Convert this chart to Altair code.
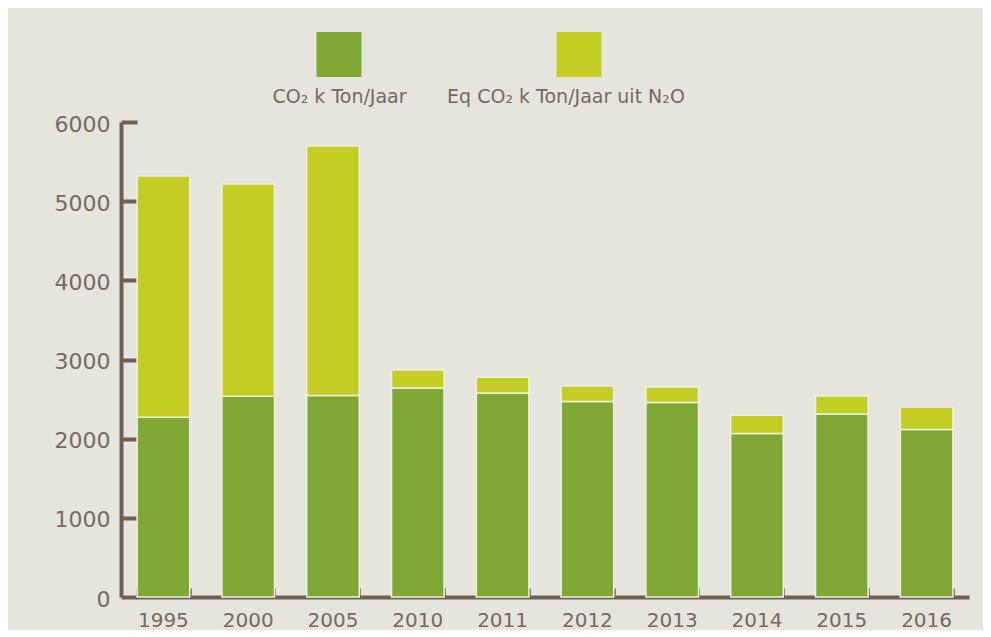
import altair as alt
import pandas as pd

# ---- data ----
years = ["1995", "2000", "2005", "2010", "2011", "2012", "2013", "2014", "2015", "2016"]
co2 = [2270, 2535, 2545, 2640, 2577, 2470, 2457, 2065, 2311, 2116]
n2o = [3048, 2682, 3152, 227, 198, 195, 196, 230, 228, 284]
series_names = ["CO₂ k Ton/Jaar", "Eq CO₂ k Ton/Jaar uit N₂O"]
series_colors = ["#7fa733", "#c3cd23"]
y_ticks = [0, 1000, 2000, 3000, 4000, 5000, 6000]

rows = []
for i, yr in enumerate(years):
    rows.append({"year": yr, "series": series_names[0], "value": co2[i], "order": 0})
    rows.append({"year": yr, "series": series_names[1], "value": n2o[i], "order": 1})
df = pd.DataFrame(rows)

W, H = 848, 475
AXIS = "#705f50"
LABEL = "#76695d"
FONT = "DejaVu Sans"
WEIGHT = 400
BG = "#e6e5dd"

xscale = alt.Scale(domain=years, paddingInner=0.38, paddingOuter=0.19)
yscale = alt.Scale(domain=[0, 6000], nice=False)
cscale = alt.Scale(domain=series_names, range=series_colors)

bars = alt.Chart(df).mark_bar(stroke="#eef0e4", strokeWidth=1.5).encode(
    x=alt.X("year:N", scale=xscale, sort=years,
            axis=alt.Axis(title=None, labelAngle=0, ticks=False, tickSize=0, domain=True,
                          domainColor=AXIS, domainWidth=4, labelColor=LABEL, labelFont=FONT,
                          labelFontWeight=WEIGHT, labelFontSize=20, labelPadding=13, grid=False)),
    y=alt.Y("value:Q", stack="zero", scale=yscale,
            axis=alt.Axis(title=None, values=y_ticks, format="d", ticks=False, tickSize=0,
                          domain=True, domainColor=AXIS, domainWidth=4, labelColor=LABEL,
                          labelFont=FONT, labelFontWeight=WEIGHT, labelFontSize=22,
                          labelPadding=11, labelOffset=2, grid=False)),
    color=alt.Color("series:N", scale=cscale, legend=None),
    order=alt.Order("order:Q"),
)

tick_layer = alt.Chart(df).mark_bar(opacity=0).encode(
    x=alt.X("year:N", scale=xscale, sort=years,
            axis=alt.Axis(orient="top", offset=-H, labels=False, domain=False, ticks=True,
                          tickBand="extent", tickSize=9, tickWidth=2.5, tickColor=AXIS,
                          title=None, grid=False)),
    y=alt.Y("value:Q", stack="zero", scale=yscale,
            axis=alt.Axis(orient="right", offset=-W, values=y_ticks[1:], labels=False,
                          domain=False, ticks=True, tickSize=16, tickWidth=4, tickColor=AXIS,
                          title=None, grid=False)),
)

legend_layers = []
legend_sq_x = [218, 458]
legend_txt_x = [218.5, 445]
for i, name in enumerate(series_names):
    ldf = pd.DataFrame({"series": [name]})
    sq = alt.Chart(ldf).mark_square(size=2025, opacity=1, color=series_colors[i]).encode(
        x=alt.value(legend_sq_x[i]), y=alt.value(-67.5))
    tx = alt.Chart(ldf).mark_text(font=FONT, fontWeight=WEIGHT, fontSize=19, color=LABEL,
                                  align="center", baseline="alphabetic").encode(
        x=alt.value(legend_txt_x[i]), y=alt.value(-19), text="series:N")
    legend_layers += [sq, tx]

chart = alt.layer(bars, tick_layer, *legend_layers).resolve_axis(
    x="independent", y="independent"
).properties(
    width=W, height=H,
    padding={"left": 113, "top": 114, "right": 14, "bottom": 33},
    autosize=alt.AutoSizeParams(type="none"),
    background=BG,
).configure_view(stroke=None)

chart.save("out.html", embed_options={"renderer": "svg", "actions": False})
